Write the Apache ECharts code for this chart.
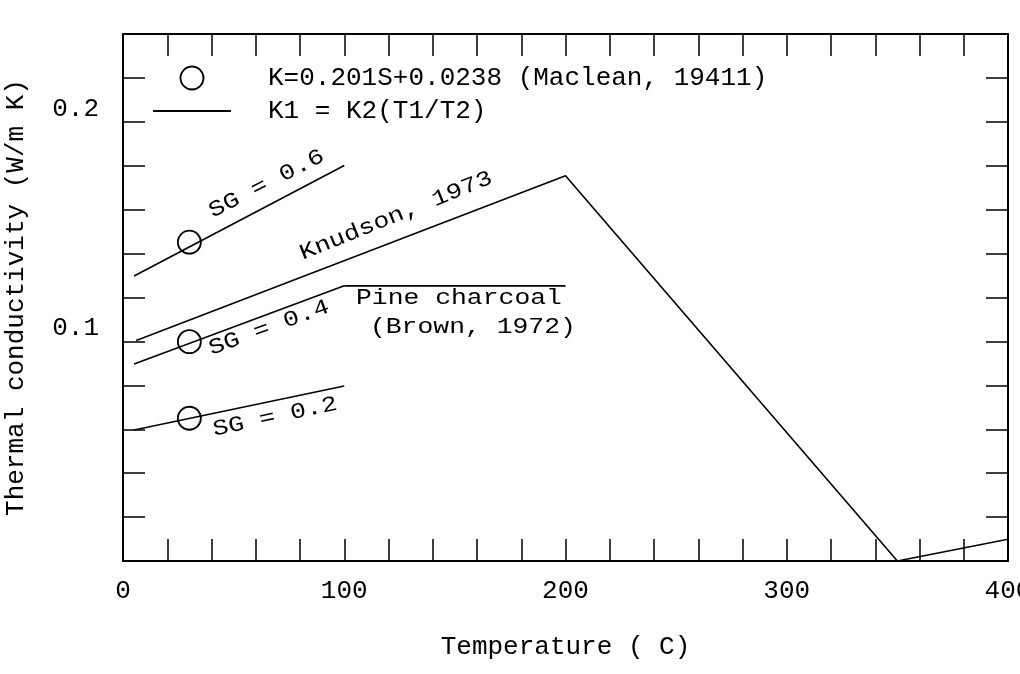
<!DOCTYPE html>
<html>
<head>
<meta charset="utf-8">
<script src="https://cdn.jsdelivr.net/npm/echarts@6/dist/echarts.min.js"></script>
<style>
html,body{margin:0;padding:0;background:#fff;}
#chart{width:1020px;height:674px;}
</style>
</head>
<body>
<div id="chart"></div>
<script>
// ---- data ----
const macleanName = 'K=0.201S+0.0238 (Maclean, 19411)';
const ratioName = 'K1 = K2(T1/T2)';
const macleanPoints = [[30, 0.1452], [30, 0.0999], [30, 0.0650]];
const sg06 = [[5, 0.1298], [100, 0.1801]];
const sg04 = [[5, 0.0897], [100, 0.1253]];
const sg02 = [[5, 0.0597], [100, 0.0797]];
const pineCharcoal = [[100, 0.1253], [200, 0.1253]];
const knudson = [[6, 0.1004], [200, 0.1754], [350, 0.0], [400, 0.0099]];
const xTickLabels = [0, 100, 200, 300, 400];
const yTickLabels = [0.1, 0.2];
const annotations = [
  {text: 'SG = 0.6', x: 64.9, y: 0.1718, rot: 27, align: 'center'},
  {text: 'Knudson, 1973', x: 123.4, y: 0.1572, rot: 22, align: 'center'},
  {text: 'Pine charcoal', x: 105.3, y: 0.1198, rot: 0, align: 'left'},
  {text: '(Brown, 1972)', x: 111.6, y: 0.1066, rot: 0, align: 'left'},
  {text: 'SG = 0.4', x: 66.0, y: 0.1062, rot: 20, align: 'center'},
  {text: 'SG = 0.2', x: 68.7, y: 0.0656, rot: 12, align: 'center'}
];

const FONT = 'Liberation Mono';
const chart = echarts.init(document.getElementById('chart'), null, {renderer: 'canvas'});

function xAxisCfg(pos, labels) {
  return {
    type: 'value', position: pos, min: 0, max: 400, interval: 20,
    axisLine: {show: true, onZero: false, lineStyle: {color: '#000', width: 2}},
    axisTick: {show: true, inside: true, length: 22, lineStyle: {color: '#000', width: 1.5}},
    splitLine: {show: false},
    axisLabel: labels ? {
      show: true, showMaxLabel: true, showMinLabel: true, margin: 17,
      fontFamily: FONT, fontSize: 26, color: '#000',
      formatter: v => xTickLabels.some(t => Math.abs(t - v) < 1e-6) ? String(Math.round(v)) : ''
    } : {show: false}
  };
}
function yAxisCfg(pos, labels) {
  return {
    type: 'value', position: pos, min: 0, max: 0.24, interval: 0.02,
    axisLine: {show: true, onZero: false, lineStyle: {color: '#000', width: 2}},
    axisTick: {show: true, inside: true, length: 22, lineStyle: {color: '#000', width: 1.5}},
    splitLine: {show: false},
    axisLabel: labels ? {
      show: true, margin: 24, verticalAlign: 'bottom',
      fontFamily: FONT, fontSize: 26, color: '#000',
      formatter: v => {
        const t = yTickLabels.find(t => Math.abs(t - v) < 1e-6);
        return t === undefined ? '' : t.toFixed(1);
      }
    } : {show: false}
  };
}

const lineStyle = {color: '#000', width: 1.6};
function lineSeries(name, data) {
  return {type: 'line', name: name, data: data, symbol: 'none', showSymbol: false,
    lineStyle: lineStyle, itemStyle: {color: '#000'}, z: 3, silent: true};
}

const xa = xAxisCfg('bottom', true);
xa.name = 'Temperature ( C)';
xa.nameLocation = 'middle';
xa.nameGap = 73;
xa.nameTextStyle = {fontFamily: FONT, fontSize: 26, color: '#000'};
const ya = yAxisCfg('left', true);
ya.name = 'Thermal conductivity (W/m K)';
ya.nameLocation = 'middle';
ya.nameGap = 94;
ya.nameTextStyle = {fontFamily: FONT, fontSize: 26, color: '#000'};

const circleStyle = {color: 'rgba(0,0,0,0)', borderColor: '#000', borderWidth: 1.8, opacity: 1};

const option = {
  animation: false,
  backgroundColor: '#fff',
  grid: {left: 123, right: 12, top: 34, bottom: 113, containLabel: false, outerBoundsMode: 'none'},
  legend: {
    orient: 'vertical', left: 147, top: 60, itemWidth: 78, itemHeight: 23, itemGap: 7,
    selectedMode: false,
    textStyle: {fontFamily: FONT, fontSize: 26, color: '#000', padding: [0, 0, 0, 32]},
    data: [
      {name: macleanName, icon: 'circle', itemStyle: circleStyle},
      {name: ratioName, itemStyle: {opacity: 0}}
    ]
  },
  xAxis: [xa, xAxisCfg('top', false)],
  yAxis: [ya, yAxisCfg('right', false)],
  series: [
    {type: 'scatter', name: macleanName, data: macleanPoints, symbol: 'circle', symbolSize: 23,
      itemStyle: circleStyle, z: 4, silent: true},
    lineSeries(ratioName, sg06),
    lineSeries(ratioName, sg04),
    lineSeries(ratioName, sg02),
    lineSeries('Pine charcoal (Brown, 1972)', pineCharcoal),
    lineSeries('Knudson, 1973', knudson)
  ]
};
chart.setOption(option);

const graphics = annotations.map(a => {
  const p = chart.convertToPixel({xAxisIndex: 0, yAxisIndex: 0}, [a.x, a.y]);
  return {
    type: 'text', x: p[0], y: p[1], rotation: a.rot * Math.PI / 180, scaleX: 1.2, scaleY: 1,
    silent: true, z: 10,
    style: {text: a.text, fontFamily: FONT, fontSize: 22, fill: '#000',
      align: a.align, verticalAlign: 'middle', textAlign: a.align, textVerticalAlign: 'middle'}
  };
});
chart.setOption({graphic: graphics});
</script>
</body>
</html>
